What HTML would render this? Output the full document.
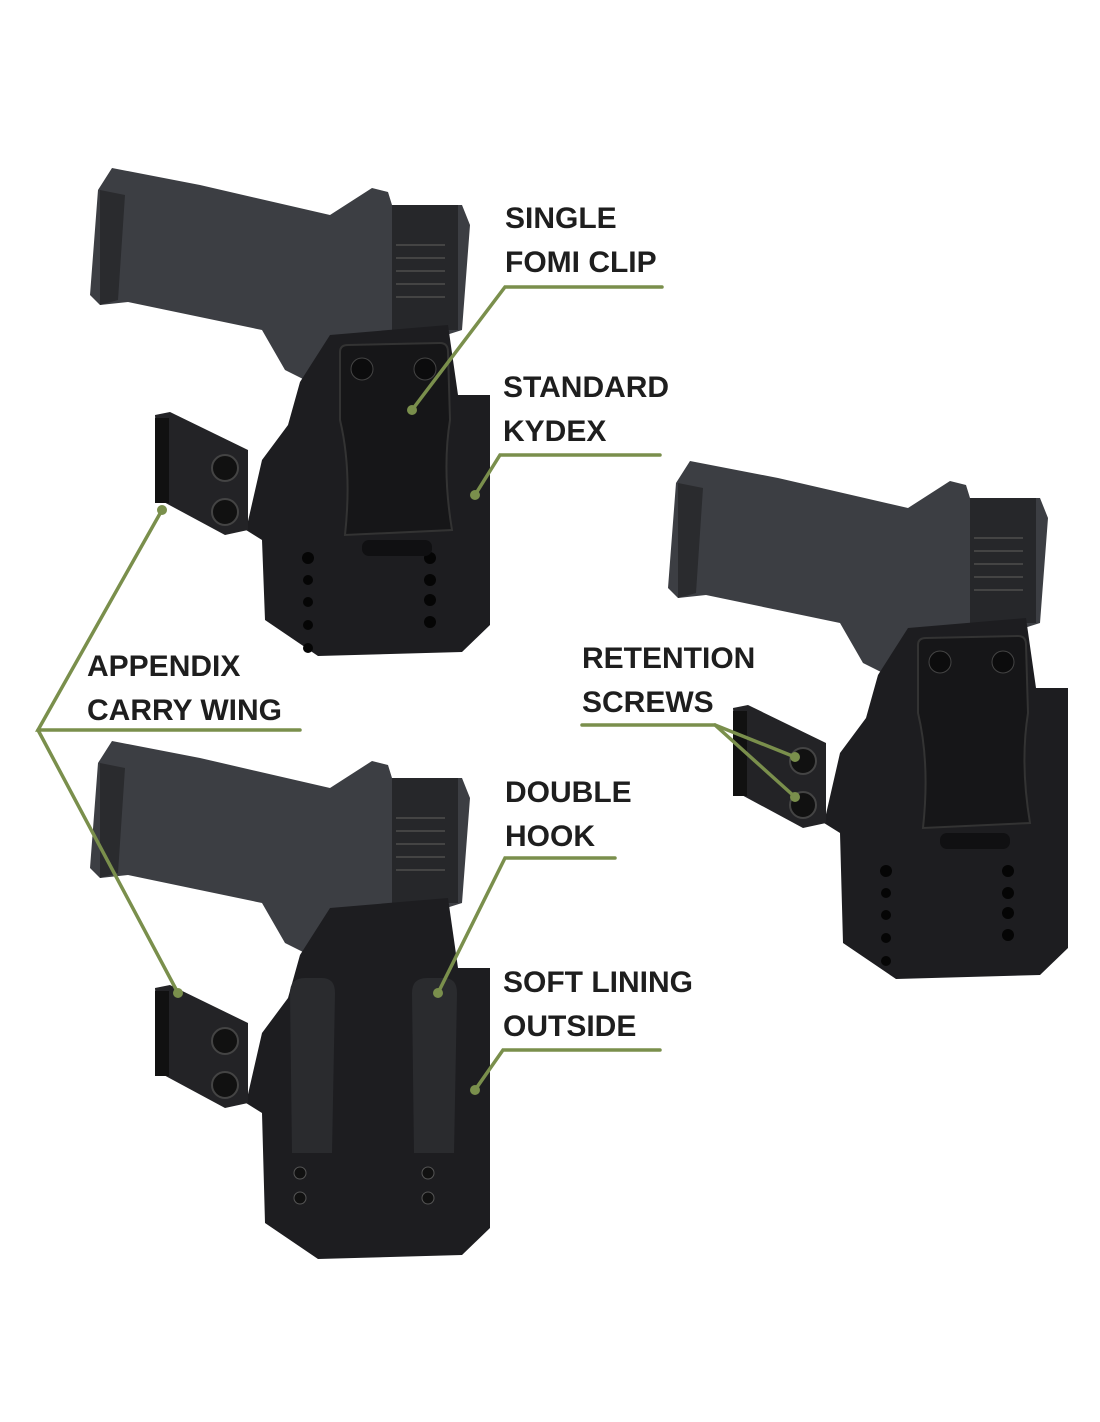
<!DOCTYPE html>
<html><head><meta charset="utf-8"><style>
html,body{margin:0;padding:0;background:#fff;}
svg{display:block}
text{font-family:"Liberation Sans",sans-serif;font-weight:bold;font-size:30px;fill:#1e1e1e;}
</style></head><body>
<svg width="1100" height="1422" viewBox="0 0 1100 1422" xmlns="http://www.w3.org/2000/svg">
<defs>
<g id="gun">
  <path d="M98,190 L112,168 L200,185 L330,215 L372,188 L388,192 L392,205 L462,205 L470,225 L462,330 L305,380 L285,370 L262,330 L128,302 L100,305 L90,295 Z" fill="#3c3e43"/>
  <rect x="392" y="205" width="66" height="125" fill="#26272a"/>
  <g stroke="#444" stroke-width="2"><line x1="396" y1="245" x2="445" y2="245"/><line x1="396" y1="258" x2="445" y2="258"/><line x1="396" y1="271" x2="445" y2="271"/><line x1="396" y1="284" x2="445" y2="284"/><line x1="396" y1="297" x2="445" y2="297"/></g>
  <path d="M100,190 L125,195 L118,300 L100,305 Z" fill="#2a2b2e"/>
</g>
<g id="body">
  <path d="M330,335 L448,325 L458,395 L490,395 L490,625 L462,652 L318,656 L265,620 L262,540 L246,530 L262,460 L288,425 L300,382 Z" fill="#1d1d20"/>
  <path d="M155,415 L170,412 L248,450 L248,530 L225,535 L160,500 Z" fill="#232326"/>
  <rect x="155" y="418" width="14" height="85" fill="#111"/>
  <circle cx="225" cy="468" r="13" fill="#111" stroke="#444" stroke-width="2"/>
  <circle cx="225" cy="512" r="13" fill="#111" stroke="#444" stroke-width="2"/>
</g>
<g id="body2">
  <path d="M330,335 L448,325 L458,395 L490,395 L490,655 L462,682 L318,686 L265,650 L262,540 L246,530 L262,460 L288,425 L300,382 Z" fill="#1d1d20"/>
  <path d="M155,415 L170,412 L248,450 L248,530 L225,535 L160,500 Z" fill="#232326"/>
  <rect x="155" y="418" width="14" height="85" fill="#111"/>
  <circle cx="225" cy="468" r="13" fill="#111" stroke="#444" stroke-width="2"/>
  <circle cx="225" cy="512" r="13" fill="#111" stroke="#444" stroke-width="2"/>
</g>
<g id="holes">
  <g fill="#050505"><circle cx="308" cy="558" r="6"/><circle cx="308" cy="580" r="5"/><circle cx="308" cy="602" r="5"/><circle cx="308" cy="625" r="5"/><circle cx="308" cy="648" r="5"/>
  <circle cx="430" cy="558" r="6"/><circle cx="430" cy="580" r="6"/><circle cx="430" cy="600" r="6"/><circle cx="430" cy="622" r="6"/></g>
</g>
<g id="clip">
  <path d="M340,352 Q340,345 348,345 L440,343 Q448,343 448,352 L450,420 Q442,470 452,530 L345,535 Q352,470 340,420 Z" fill="#161618" stroke="#333" stroke-width="2"/>
  <rect x="362" y="540" width="70" height="16" rx="7" fill="#101012"/>
  <circle cx="362" cy="369" r="11" fill="#0c0c0d" stroke="#444"/>
  <circle cx="425" cy="369" r="11" fill="#0c0c0d" stroke="#444"/>
</g>
</defs>

<!-- holster 1 -->
<use href="#gun"/>
<use href="#body"/>
<use href="#holes"/>
<use href="#clip"/>

<!-- holster 2 -->
<g transform="translate(0,573)">
  <use href="#gun"/>
  <use href="#body2"/>
  <path d="M290,420 Q290,405 305,405 L322,405 Q335,405 335,420 L332,580 L292,580 Z" fill="#2a2b2e"/>
  <path d="M412,420 Q412,405 427,405 L444,405 Q457,405 457,420 L454,580 L414,580 Z" fill="#2a2b2e"/>
  <circle cx="300" cy="600" r="6" fill="#111" stroke="#555"/><circle cx="300" cy="625" r="6" fill="#111" stroke="#555"/>
  <circle cx="428" cy="600" r="6" fill="#111" stroke="#555"/><circle cx="428" cy="625" r="6" fill="#111" stroke="#555"/>
</g>

<!-- holster 3 -->
<g transform="translate(578,293)">
  <use href="#gun"/>
  <use href="#body2"/>
  <g transform="translate(0,20)"><use href="#holes"/></g>
  <use href="#clip"/>
</g>

<!-- connectors -->
<g stroke="#7a8f4c" stroke-width="3.5" fill="none" stroke-linecap="round">
  <polyline points="662,287 505,287 412,410"/>
  <polyline points="660,455 500,455 475,495"/>
  <polyline points="300,730 38,730 162,510"/>
  <line x1="38" y1="730" x2="178" y2="993"/>
  <polyline points="582,725 715,725 795,757"/>
  <line x1="715" y1="725" x2="795" y2="797"/>
  <polyline points="615,858 505,858 438,993"/>
  <polyline points="660,1050 503,1050 475,1090"/>
</g>
<g fill="#7a8f4c">
  <circle cx="412" cy="410" r="5"/><circle cx="475" cy="495" r="5"/><circle cx="162" cy="510" r="5"/><circle cx="178" cy="993" r="5"/>
  <circle cx="795" cy="757" r="5"/><circle cx="795" cy="797" r="5"/><circle cx="438" cy="993" r="5"/><circle cx="475" cy="1090" r="5"/>
</g>

<!-- labels -->
<text x="505" y="228">SINGLE</text>
<text x="505" y="272">FOMI CLIP</text>
<text x="503" y="397">STANDARD</text>
<text x="503" y="441">KYDEX</text>
<text x="87" y="676">APPENDIX</text>
<text x="87" y="720">CARRY WING</text>
<text x="582" y="668">RETENTION</text>
<text x="582" y="712">SCREWS</text>
<text x="505" y="802">DOUBLE</text>
<text x="505" y="846">HOOK</text>
<text x="503" y="992">SOFT LINING</text>
<text x="503" y="1036">OUTSIDE</text>
</svg>
</body></html>
